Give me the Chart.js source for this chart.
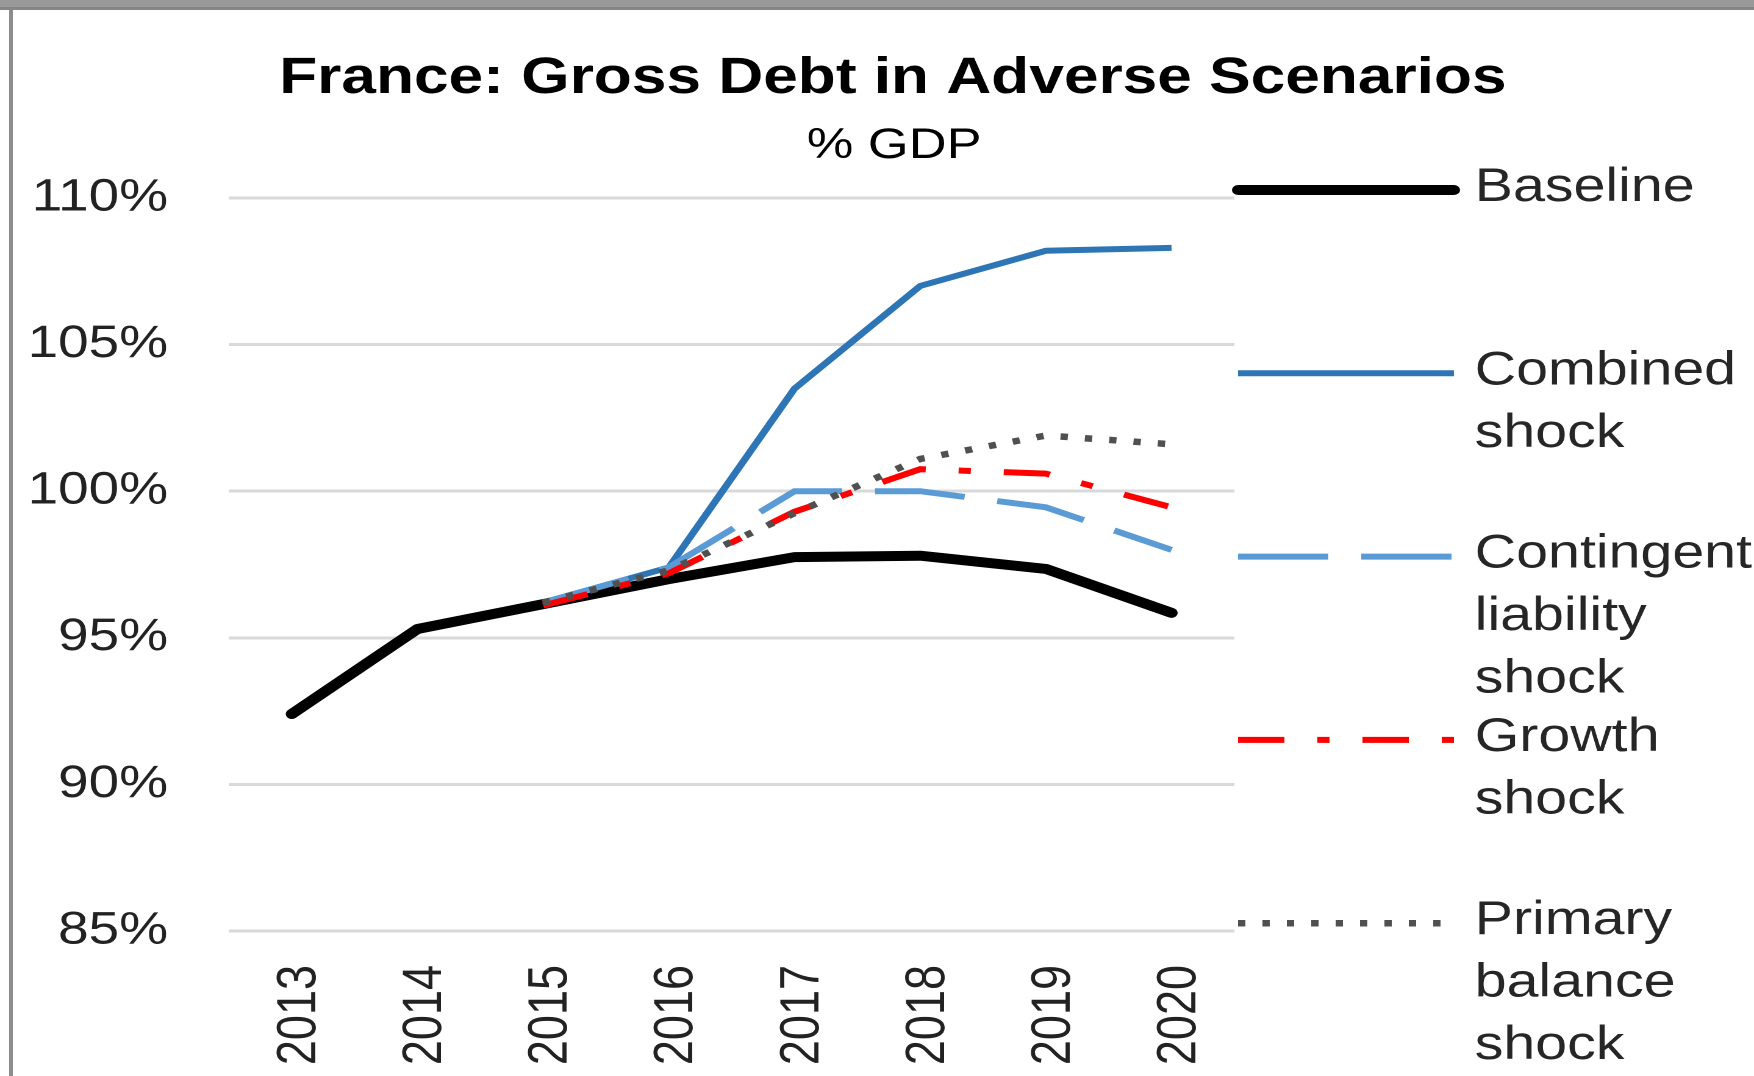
<!DOCTYPE html>
<html>
<head>
    <title>France: Gross Debt in Adverse Scenarios</title>
    <script src="https://cdn.jsdelivr.net/npm/chart.js"></script>
    <style>
        body {
            margin: 0;
            background: #ffffff;
            overflow: hidden;
        }
        /* the source picture is stretched sideways, so the canvas is drawn narrow and widened by css */
        #debtChart {
            position: absolute;
            left: 0;
            top: 0;
        }
        #frameTop {
            position: absolute;
            left: 0;
            top: 0;
            width: 1754px;
            height: 7px;
            background: #999999;
            border-bottom: 3px solid #878787;
        }
        #frameLeft {
            position: absolute;
            left: 9px;
            top: 10px;
            width: 4px;
            height: 1066px;
            background: #8c8c8c;
        }
    </style>
</head>
<body>
    <canvas id="debtChart" width="1438" height="1076" style="width:1754px;height:1076px"></canvas>
    <div id="frameTop"></div>
    <div id="frameLeft"></div>

    <script>
        // Chart data
        const chartTitle = 'France: Gross Debt in Adverse Scenarios';
        const chartSubtitle = '% GDP';
        const years = ['2013', '2014', '2015', '2016', '2017', '2018', '2019', '2020'];
        const yTicks = [85, 90, 95, 100, 105, 110];
        const seriesNames = ['Baseline', 'Combined shock', 'Contingent liability shock', 'Growth shock', 'Primary balance shock'];

        const baseline   = [92.4, 95.3, 96.15, 97.0, 97.75, 97.8, 97.35, 95.85];
        const combined   = [null, null, 96.2, 97.4, 103.5, 107.0, 108.2, 108.3];
        const contingent = [null, null, 96.2, 97.4, 100.0, 100.0, 99.45, 98.0];
        const growth     = [null, null, 96.1, 97.2, 99.3, 100.75, 100.6, 99.45];
        const primary    = [null, null, 96.2, 97.3, 99.25, 101.1, 101.9, 101.6];

        const fontFamily = '"Liberation Sans", Arial, sans-serif';

        // Title, subtitle and the wrapped legend on the right
        const sideText = {
            id: 'sideText',
            afterDraw(chart) {
                const ctx = chart.ctx;
                ctx.save();
                ctx.fillStyle = '#000000';
                ctx.textAlign = 'center';
                ctx.textBaseline = 'alphabetic';
                ctx.font = 'bold 51px ' + fontFamily;
                ctx.fillText(chartTitle, 732, 93);
                ctx.font = '43px ' + fontFamily;
                ctx.fillText(chartSubtitle, 733, 158);

                chart.data.datasets.forEach((ds, i) => {
                    const y = 190 + i * 183.3;
                    ctx.beginPath();
                    ctx.strokeStyle = ds.borderColor;
                    ctx.lineWidth = ds.borderWidth;
                    ctx.lineCap = ds.borderCapStyle || 'butt';
                    ctx.setLineDash(ds.borderDash || []);
                    ctx.moveTo(1015, y);
                    ctx.lineTo(1192, y);
                    ctx.stroke();
                    ctx.setLineDash([]);

                    ctx.fillStyle = '#262626';
                    ctx.textAlign = 'left';
                    ctx.textBaseline = 'middle';
                    ctx.font = '47px ' + fontFamily;
                    ds.label.split(' ').forEach((word, j) => {
                        ctx.fillText(word, 1209, y - 2 + j * 62.5);
                    });
                });
                ctx.restore();
            }
        };

        const config = {
            type: 'line',
            data: {
                labels: years,
                datasets: [
                    {
                        label: seriesNames[0],
                        data: baseline,
                        borderColor: '#000000',
                        borderWidth: 10,
                        borderCapStyle: 'round',
                        borderJoinStyle: 'round',
                        order: 5
                    },
                    {
                        label: seriesNames[1],
                        data: combined,
                        borderColor: '#2E75B6',
                        borderWidth: 6,
                        order: 4
                    },
                    {
                        label: seriesNames[2],
                        data: contingent,
                        borderColor: '#5B9BD5',
                        borderWidth: 6,
                        borderDash: [74, 27],
                        order: 3
                    },
                    {
                        label: seriesNames[3],
                        data: growth,
                        borderColor: '#FF0000',
                        borderWidth: 6,
                        borderDash: [38, 27, 10, 27],
                        order: 2
                    },
                    {
                        label: seriesNames[4],
                        data: primary,
                        borderColor: '#505050',
                        borderWidth: 6.5,
                        borderDash: [6, 14],
                        order: 1
                    }
                ]
            },
            options: {
                responsive: false,
                devicePixelRatio: 2,
                animation: false,
                elements: {
                    point: { radius: 0 },
                    line: { tension: 0, fill: false }
                },
                layout: {
                    padding: { left: 0, right: 426, top: 198, bottom: 0 }
                },
                plugins: {
                    legend: { display: false },
                    title: { display: false },
                    tooltip: { enabled: false }
                },
                scales: {
                    x: {
                        offset: true,
                        grid: { display: false, drawTicks: false },
                        border: { display: false },
                        ticks: {
                            minRotation: 90,
                            maxRotation: 90,
                            padding: 34,
                            labelOffset: 7,
                            color: '#222222',
                            font: { family: fontFamily, size: 45 }
                        },
                        afterFit: (scale) => { scale.height = 145; }
                    },
                    y: {
                        min: 85,
                        max: 110,
                        afterBuildTicks: (scale) => {
                            scale.ticks = yTicks.map(v => ({ value: v }));
                        },
                        grid: { color: '#d9d9d9', lineWidth: 3, drawTicks: false },
                        border: { display: false },
                        ticks: {
                            padding: 50,
                            color: '#222222',
                            font: { family: fontFamily, size: 45 },
                            callback: (v) => v + '%'
                        },
                        afterFit: (scale) => { scale.width = 187.7; }
                    }
                }
            },
            plugins: [sideText]
        };

        const ctx = document.getElementById('debtChart').getContext('2d');
        const debtChart = new Chart(ctx, config);
    </script>
</body>
</html>
